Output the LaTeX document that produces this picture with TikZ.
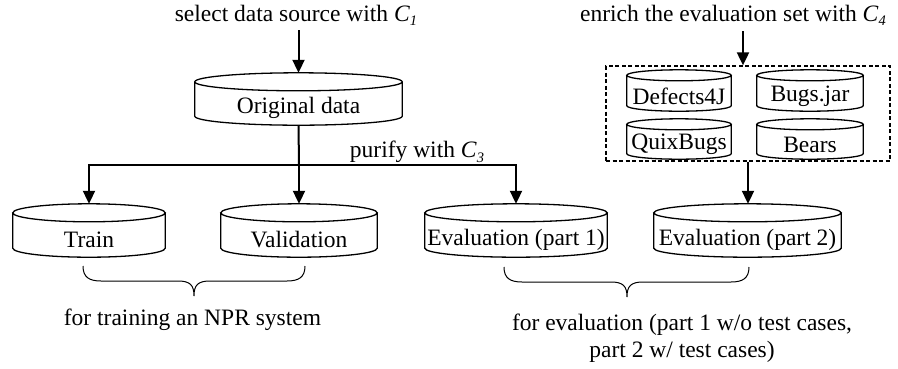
\documentclass[tikz,border=0pt]{standalone}
\usepackage{fontspec}
\setmainfont{Liberation Serif}
\usetikzlibrary{arrows.meta,calc}
% italic C with a small italic index
\newcommand\csub[1]{\textit{C}\raisebox{-0.4ex}{\fontsize{14.5}{14.5}\selectfont\textit{#1}}}

\begin{document}
\begin{tikzpicture}[x=1pt,y=1pt,
  every node/.style={font=\fontsize{23.5}{27}\selectfont},
  body/.style={rectangle, inner sep=0pt, minimum width=#1},
  cylline/.style={line width=1.3pt},
  conn/.style={line width=2pt, -{Triangle[length=13pt,width=12pt]}},
  bus/.style={line width=2pt},
  brace/.style={line width=1pt},
  caption/.style={inner sep=0pt, align=center}
]
\useasboundingbox (0,0) rectangle (898,-368);

% database bodies (the part below the top face)
\node[body=207, minimum height=34] (orig)  at (298.5,-108)  {Original data};
\node[body=152, minimum height=35] (train) at (89,-239.5)   {Train};
\node[body=156, minimum height=35] (valid) at (299,-239.5)  {Validation};
\node[body=182, minimum height=35] (eval1) at (516,-239.5)  {Evaluation (part 1)};
\node[body=187, minimum height=35] (eval2) at (747.5,-239.5){Evaluation (part 2)};
\node[body=104, minimum height=30] (d4j)   at (679,-96)     {Defects4J};
\node[body=106, minimum height=30] (bjar)  at (810,-96)     {Bugs.jar};
\node[body=104, minimum height=29] (quix)  at (679,-144.5)  {QuixBugs};
\node[body=106, minimum height=29] (bears) at (810,-144.5)  {Bears};

% cylinder outlines: top face, sides and bottom rim
\foreach \nm/\rr in {orig/9,train/9,valid/9,eval1/9,eval2/9,d4j/5.5,bjar/5.5,quix/5.5,bears/5.5}{
  \draw[cylline] let \p1=(\nm.north west), \p2=(\nm.south east), \n1={(\x2-\x1)/2} in
    (\nm.north) ++(0,\rr pt) ellipse [x radius=\n1, y radius=\rr pt]
    (\x1,\y1+\rr pt) -- (\x1,\y2+\rr pt)
      arc[start angle=180, end angle=360, x radius=\n1, y radius=\rr pt]
      -- (\x2,\y1+\rr pt);
  \coordinate (\nm-top) at ($(\nm.north)+(0,2*\rr pt)$);
}

% group of benchmark sets
\node[draw, line width=1.3pt, dash pattern=on 4pt off 2.5pt,
      minimum width=284, minimum height=95, inner sep=0pt] (bench) at (748,-113.5) {};

% headings with their arrows
\node[caption] (sel) at (296,-15) {select data source with \csub{1}};
\node[caption] (enr) at (733,-15) {enrich the evaluation set with \csub{4}};
\draw[conn] (orig-top |- 0,-30) -- (orig-top);
\draw[conn] (bench.north -| 743,0) ++(0,34) -- (bench.north -| 743,0);

% split of the original data
\coordinate (split) at (299,-165);
\draw[bus] (orig.south) -- (split);
\draw[line width=2pt, {Triangle[length=13pt,width=12pt]}-{Triangle[length=13pt,width=12pt]}]
  (train-top) -- (train-top |- split) -- (eval1-top |- split) -- (eval1-top);
\draw[conn] (split) -- (valid-top);
\node[caption] (pur) at (417,-152) {purify with \csub{3}};

% benchmarks feed the second evaluation part
\draw[conn] (bench.south) -- (bench.south |- eval2-top);

% braces
\draw[brace] (83,-266) .. controls (83,-277) and (89,-281) .. (101,-281)
  -- (178,-281) .. controls (190,-281) and (194,-285) .. (194,-296)
  .. controls (194,-285) and (198,-281) .. (210,-281)
  -- (287,-281) .. controls (299,-281) and (305,-277) .. (305,-266);
\draw[brace] (504,-267) .. controls (504,-278) and (510,-282) .. (522,-282)
  -- (611,-282) .. controls (623,-282) and (627,-286) .. (627,-297)
  .. controls (627,-286) and (631,-282) .. (643,-282)
  -- (731,-282) .. controls (743,-282) and (749,-278) .. (749,-267);

\node[caption] (trn) at (192.5,-320) {for training an NPR system};
\node[caption] (evl) at (682,-338) {for evaluation (part 1 w/o test cases,\\ part 2 w/ test cases)};
\end{tikzpicture}
\end{document}
